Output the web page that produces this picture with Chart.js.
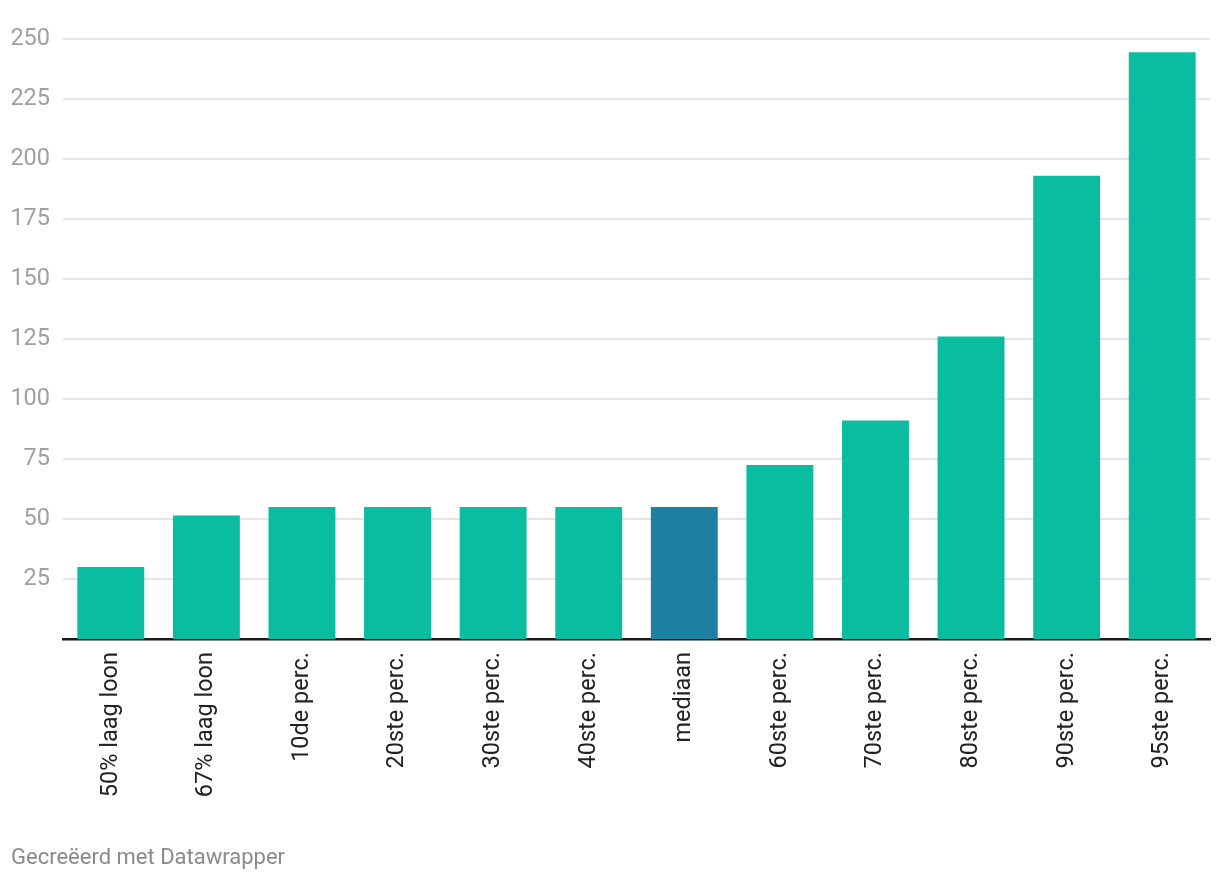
<!DOCTYPE html>
<html>

<head>
    <meta charset="utf-8">
    <script src="https://cdn.jsdelivr.net/npm/chart.js@4"></script>
    <style>
        body { margin: 0; background: #fff; }
        #kader { position: relative; width: 1220px; height: 884px; }
        #voet {
            position: absolute; left: 11px; top: 844px;
            font-family: Roboto, sans-serif; font-size: 22px; color: #8a8a8a;
        }
    </style>
</head>

<body>
    <div id="kader">
        <canvas id="grafiek" width="1220" height="884"></canvas>
        <div id="voet">Gecreëerd met Datawrapper</div>
    </div>
    <script>
        const categorieen = ["50% laag loon", "67% laag loon", "10de perc.", "20ste perc.", "30ste perc.",
            "40ste perc.", "mediaan", "60ste perc.", "70ste perc.", "80ste perc.", "90ste perc.", "95ste perc."];
        const waarden = [30, 51.5, 55, 55, 55, 55, 55, 72.5, 91, 126, 193, 244.5];
        const yTicks = [25, 50, 75, 100, 125, 150, 175, 200, 225, 250];

        const kleuren = categorieen.map(c => c === "mediaan" ? "#1d80a0" : "#0abda0");

        const ctx = document.getElementById("grafiek").getContext("2d");
        const grafiek = new Chart(ctx, {
            type: "bar",
            data: {
                labels: categorieen,
                datasets: [{
                    data: waarden,
                    backgroundColor: kleuren,
                    categoryPercentage: 1,
                    barPercentage: 0.7
                }]
            },
            options: {
                responsive: false,
                animation: false,
                layout: { padding: { top: 39, right: 10, bottom: 45, left: 0 } },
                plugins: { legend: { display: false }, tooltip: { enabled: false } },
                scales: {
                    x: {
                        grid: { display: false, drawTicks: false },
                        border: { color: "#1a1a1a", width: 2.5 },
                        ticks: {
                            minRotation: 90, maxRotation: 90, autoSkip: false, padding: 13,
                            color: "#222", font: { family: "Roboto", size: 23.5 }
                        },
                        afterFit: s => { s.height = 200; }
                    },
                    y: {
                        min: 0, max: 250,
                        afterBuildTicks: s => { s.ticks = yTicks.map(v => ({ value: v })); },
                        grid: { color: "#e5e5e5", lineWidth: 2, drawTicks: false },
                        border: { display: false },
                        ticks: {
                            padding: 13, color: "#a0a0a0", font: { family: "Roboto", size: 23.5 }
                        },
                        afterFit: s => { s.width = 63; }
                    }
                }
            }
        });
    </script>
</body>

</html>
